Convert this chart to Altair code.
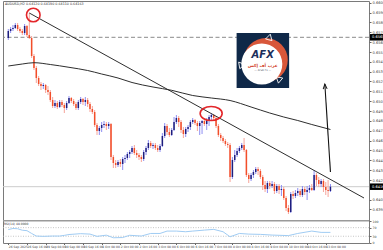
import json
import altair as alt
import pandas as pd

SYMBOL = "AUDUSD,H2"
PIP = 0.0001  # all price arrays below are in 0.0001 units

opens = [6565,6572,6574,6575,6578,6574,6572,6570,6577,6568,
         6565,6547,6535,6525,6519,6517,6518,6513,6511,6503,
         6497,6500,6496,6501,6498,6495,6500,6505,6502,6499,
         6495,6501,6504,6501,6503,6499,6494,6491,6478,6472,
         6475,6478,6479,6477,6479,6446,6440,6438,6441,6439,
         6444,6445,6449,6451,6455,6450,6448,6446,6444,6451,
         6455,6460,6457,6458,6455,6453,6457,6467,6477,6471,
         6468,6473,6481,6485,6481,6473,6469,6474,6476,6481,
         6483,6480,6477,6480,6482,6479,6483,6486,6488,6485,
         6477,6468,6465,6462,6459,6458,6426,6443,6448,6452,
         6455,6458,6453,6428,6424,6428,6431,6434,6432,6426,
         6418,6414,6420,6417,6419,6412,6417,6413,6414,6405,
         6395,6391,6409,6407,6410,6412,6408,6414,6411,6413,
         6415,6413,6428,6423,6419,6422,6416,6413,6412]
highs = [6574,6576,6578,6580,6580,6576,6574,6579,6578,6590,
         6567,6549,6537,6527,6521,6520,6519,6517,6513,6506,
         6503,6502,6503,6503,6500,6502,6507,6506,6504,6501,
         6503,6506,6505,6506,6505,6501,6497,6493,6480,6477,
         6481,6482,6481,6481,6480,6448,6443,6443,6444,6446,
         6448,6451,6453,6457,6458,6453,6450,6448,6453,6457,
         6463,6462,6460,6460,6458,6459,6470,6480,6479,6475,
         6475,6486,6488,6487,6483,6476,6476,6478,6483,6485,
         6484,6482,6482,6483,6484,6485,6488,6490,6489,6487,
         6479,6470,6467,6464,6461,6460,6446,6453,6455,6457,
         6460,6465,6454,6430,6430,6433,6436,6436,6434,6428,
         6422,6422,6422,6422,6421,6419,6419,6418,6416,6407,
         6398,6411,6412,6413,6415,6414,6417,6416,6417,6418,
         6419,6433,6430,6426,6424,6424,6421,6423,6419]
lows = [6563,6570,6572,6574,6572,6570,6568,6568,6566,6564,
        6545,6533,6520,6517,6513,6514,6510,6508,6501,6495,
        6495,6494,6495,6496,6490,6493,6499,6500,6497,6493,
        6493,6499,6498,6497,6496,6491,6489,6476,6468,6468,
        6471,6475,6473,6474,6443,6435,6435,6436,6436,6433,
        6440,6443,6445,6449,6448,6445,6443,6441,6442,6448,
        6453,6455,6454,6453,6451,6451,6456,6465,6468,6466,
        6467,6472,6479,6476,6470,6465,6466,6471,6473,6479,
        6478,6472,6468,6469,6477,6473,6477,6483,6482,6475,
        6466,6462,6460,6457,6455,6421,6424,6441,6446,6450,
        6453,6451,6426,6420,6422,6425,6429,6428,6424,6413,
        6411,6410,6414,6415,6409,6410,6409,6407,6403,6392,
        6389,6390,6404,6405,6407,6406,6406,6408,6403,6410,
        6412,6412,6417,6416,6416,6411,6408,6406,6411]
closes = [6572,6574,6575,6578,6574,6572,6570,6577,6568,6565,
          6547,6535,6525,6519,6517,6518,6513,6511,6503,6497,
          6500,6496,6501,6498,6495,6500,6505,6502,6499,6495,
          6501,6504,6501,6503,6499,6494,6491,6478,6472,6475,
          6478,6479,6477,6479,6446,6440,6438,6441,6439,6444,
          6445,6449,6451,6455,6450,6448,6446,6444,6451,6455,
          6460,6457,6458,6455,6453,6457,6467,6477,6471,6468,
          6473,6481,6485,6481,6473,6469,6474,6476,6481,6483,
          6480,6477,6480,6482,6479,6483,6486,6488,6485,6477,
          6468,6465,6462,6459,6458,6426,6443,6448,6452,6455,
          6458,6453,6428,6424,6428,6431,6434,6432,6426,6418,
          6414,6420,6417,6419,6412,6417,6413,6414,6405,6395,
          6391,6409,6407,6410,6412,6408,6414,6411,6413,6415,
          6413,6428,6423,6419,6422,6416,6413,6412,6416.3]

# long moving average (read at selected bars)
ma_idx = [0, 6, 11, 18, 26, 34, 40, 47, 53, 62, 70, 79, 87, 95, 104, 112, 118, 124, 130, 138]
ma_val = [6537, 6539, 6540.3, 6538.5, 6535.7, 6532.5, 6529, 6525, 6520.5, 6516, 6512.7,
          6507.5, 6505, 6502.5, 6496, 6490, 6486, 6482.5, 6478.5, 6473.5]

# RSI(14)
rsi_idx = [0, 2, 4, 6, 8, 10, 12, 15, 19, 22, 24, 26, 31, 35, 38, 42, 45, 49, 52, 57, 61, 65,
           68, 72, 76, 79, 84, 88, 92, 95, 99, 103, 108, 113, 120, 124, 130, 134, 138]
rsi_val = [61, 66, 65, 58, 56, 43, 31, 29.5, 31, 31, 34, 38, 42, 40, 29.5, 35, 23, 24, 34.5, 31, 43, 43,
           54, 54, 51, 54, 58.5, 62, 51, 27.6, 43, 40, 38.7, 35.5, 33, 43, 54, 48, 48]

# trend line from the spike high to the right edge
trend_idx = [9, 152.375]
trend_val = [6590, 6405]
level_dashed = 6565.7

price_ticks = [6600.3, 6590.4, 6580.6, 6570.7, 6560.9, 6551.0, 6541.2, 6531.3, 6521.5, 6511.6,
               6501.8, 6492.0, 6482.1, 6472.2, 6462.4, 6452.6, 6442.7, 6432.9, 6423.0, 6403.3,
               6393.5]
rsi_ticks = [100, 70, 30, 0]
date_ticks = [0, 8, 16, 24, 32, 40, 48, 56, 64, 72, 80, 88, 96, 104, 112, 120, 128, 136]
date_labels = ["26 Sep 2025", "26 Sep 16:00", "29 Sep 08:00", "30 Sep 00:00", "30 Sep 16:00",
               "1 Oct 08:00", "2 Oct 00:00", "2 Oct 16:00", "3 Oct 08:00", "6 Oct 00:00",
               "6 Oct 16:00", "7 Oct 08:00", "8 Oct 00:00", "8 Oct 16:00", "9 Oct 08:00",
               "10 Oct 00:00", "10 Oct 16:00", "13 Oct 08:00"]

# annotations (in bar-index / pips units)
circle_pts = {"i": [10.7], "p": [6588]}
ellipse_pts = {"i": [86.9], "p": [6489.5]}
arrow_line = {"i": [138.0, 135.6], "p": [6431, 6519]}
arrow_head = {"i": [135.67], "p": [6516.5]}
logo_box = {"x1": [97.8], "x2": [120.3], "y1": [6570], "y2": [6515]}
logo_orange = {"i": [110.3], "p": [6543]}
logo_white = {"i": [108.6], "p": [6539]}
logo_tri = {"i": [111.9, 99.6, 116.4], "p": [6566, 6537, 6524], "a": [15, 200, 70]}
logo_afx = {"i": [109.0], "p": [6548], "t": ["AFX"]}
logo_ar = {"i": [109.0], "p": [6537.5], "t": ["عرب أف إكس"]}
logo_en = {"i": [109.0], "p": [6533], "t": ["— Arab Fx —"]}

n = len(closes)
candles = pd.DataFrame({
    "i": list(range(n)),
    "o": [v * PIP for v in opens],
    "h": [v * PIP for v in highs],
    "l": [v * PIP for v in lows],
    "c": [v * PIP for v in closes],
})

BULL, BEAR = "#1e1e7e", "#f24e2a"
BULL_WICK, BEAR_WICK = "#8e8ef2", "#f6a49a"
FONT = "DejaVu Sans"

X = alt.Scale(domain=[-0.125, 152.375], nice=False, zero=False)
PRICE = alt.Scale(domain=[0.63823, 0.6602], range=[219.7, 0], nice=False, zero=False)
RSI = alt.Scale(domain=[0, 100], range=[241.7, 220.2], nice=False, zero=False)

XAXIS = alt.Axis(values=date_ticks,
                 labelExpr=json.dumps(date_labels) + "[round(datum.value / 8)]",
                 labelAlign="left", labelBaseline="top", labelFontSize=3, labelFont=FONT,
                 labelColor="#444", labelPadding=0.3, tickSize=1.5, tickColor="#666",
                 domain=False, grid=False, title=None, labelFlush=False, labelOverlap=False)
PRICE_AXIS = alt.Axis(orient="right", values=[v * PIP for v in price_ticks], format=".5f",
                      labelFontSize=3.6, labelFont=FONT, labelColor="#444", labelPadding=1,
                      tickSize=2, tickColor="#666", domain=False, grid=False, title=None,
                      labelFlush=False, labelOverlap=False)
RSI_AXIS = alt.Axis(orient="right", values=rsi_ticks, format="d", labelFontSize=3.2, labelFont=FONT,
                    labelColor="#444", labelPadding=1, tickSize=2, tickColor="#666", domain=False,
                    grid=False, title=None, labelFlush=False, labelOverlap=False)


def xq(field="i"):
    return alt.X(f"{field}:Q", scale=X, axis=XAXIS)


def yp(field="p", axis=None):
    return alt.Y(f"{field}:Q", scale=PRICE, axis=axis)


def pdf(d, keys=("p",)):
    out = dict(d)
    for k in keys:
        if k in out:
            out[k] = [v * PIP for v in out[k]]
    return pd.DataFrame(out)


up_cond = "datum.c >= datum.o"

wicks = alt.Chart(candles).mark_rule(strokeWidth=1).encode(
    x=xq(), y=yp("l", PRICE_AXIS), y2="h:Q",
    color=alt.condition(up_cond, alt.value(BULL_WICK), alt.value(BEAR_WICK)))
bodies = alt.Chart(candles).mark_bar(size=1.5).encode(
    x=xq(), y=yp("o"), y2="c:Q",
    color=alt.condition(up_cond, alt.value(BULL), alt.value(BEAR)))

ma = alt.Chart(pdf({"i": ma_idx, "p": ma_val})).mark_line(
    color="#2e2e2e", strokeWidth=1, interpolate="monotone").encode(x=xq(), y=yp())
trend = alt.Chart(pdf({"i": trend_idx, "p": trend_val})).mark_line(
    color="#2e2e2e", strokeWidth=1, clip=True).encode(x=xq(), y=yp())

dashed = alt.Chart(pdf({"p": [level_dashed]})).mark_rule(
    color="#8a8a8a", strokeDash=[4, 2.5], strokeWidth=1).encode(y=yp())
bid = alt.Chart(pdf({"p": [closes[-1]]})).mark_rule(
    color="#cccccc", strokeWidth=1).encode(y=yp())
sep = alt.Chart(pd.DataFrame({"p": [0.63823]})).mark_rule(
    color="#9a9a9a", strokeWidth=1.5).encode(y=yp())

# highlighted price labels on the right scale
hl = pd.DataFrame({"p": [level_dashed * PIP, closes[-1] * PIP],
                   "t": [f"{level_dashed * PIP:.5f}", f"{closes[-1] * PIP:.5f}"]})
hl_box = alt.Chart(hl).mark_tick(orient="horizontal", size=16, thickness=6.5, color="#000",
                                 opacity=1).encode(x=alt.value(375), y=yp())
hl_txt = alt.Chart(hl).mark_text(align="left", baseline="middle", fontSize=3.6, font=FONT,
                                 color="#fff").encode(x=alt.value(369), y=yp(), text="t:N")

# annotations
circ = alt.Chart(pdf(circle_pts)).mark_point(shape="circle", size=185, filled=False,
                                             color="#e3262a", strokeWidth=1.6, opacity=1).encode(x=xq(), y=yp())
ELLIPSE = "M -1 0 A 1 0.64 0 1 0 1 0 A 1 0.64 0 1 0 -1 0 Z"
ell = alt.Chart(pdf(ellipse_pts)).mark_point(shape=ELLIPSE, size=484, filled=False,
                                             color="#e3262a", strokeWidth=1.6, opacity=1).encode(x=xq(), y=yp())
arr = alt.Chart(pdf(arrow_line)).mark_line(color="#111", strokeWidth=1.1).encode(x=xq(), y=yp())
arr_head = alt.Chart(pdf(arrow_head)).mark_point(shape="M -0.8 1 L 0 -1 L 0.8 1", size=25, angle=356,
                                                 filled=False, color="#111", strokeWidth=1,
                                                 opacity=1).encode(x=xq(), y=yp())

box = alt.Chart(pdf(logo_box, ("y1", "y2"))).mark_rect(color="#0f2848").encode(
    x=xq("x1"), x2="x2:Q", y=yp("y1"), y2="y2:Q")
orange = alt.Chart(pdf(logo_orange)).mark_point(shape="circle", size=1936, filled=True,
                                                color="#d8573a", opacity=1).encode(x=xq(), y=yp())
white = alt.Chart(pdf(logo_white)).mark_point(shape="circle", size=1681, filled=True,
                                              color="#ffffff", opacity=1).encode(x=xq(), y=yp())
tri = alt.Chart(pdf(logo_tri)).mark_point(shape="triangle-up", size=45, filled=False, color="#ffffff",
                                          strokeWidth=0.8, opacity=1).encode(
    x=xq(), y=yp(), angle=alt.Angle("a:Q", scale=None))
afx = alt.Chart(pdf(logo_afx)).mark_text(fontSize=10, fontWeight="bold", fontStyle="italic",
                                         font=FONT, color="#1c2f5c").encode(x=xq(), y=yp(), text="t:N")
ar = alt.Chart(pdf(logo_ar)).mark_text(fontSize=4.4, fontWeight="bold", font=FONT,
                                       color="#d2452b").encode(x=xq(), y=yp(), text="t:N")
en = alt.Chart(pdf(logo_en)).mark_text(fontSize=2.6, font=FONT,
                                       color="#556070").encode(x=xq(), y=yp(), text="t:N")

header_txt = (f"{SYMBOL}  {opens[-1] * PIP:.5f} {highs[-1] * PIP:.5f} "
              f"{lows[-1] * PIP:.5f} {closes[-1] * PIP:.5f}")
header = alt.Chart(pd.DataFrame({"t": [header_txt]})).mark_text(
    align="left", baseline="middle", fontSize=3.3, font=FONT, color="#333").encode(
    x=alt.value(2), y=alt.value(3), text="t:N")

# RSI panel
rsi_df = pd.DataFrame({"i": rsi_idx, "v": rsi_val})
rsi_levels = alt.Chart(pd.DataFrame({"v": [70, 30]})).mark_rule(
    color="#b8b8b8", strokeDash=[1, 1.5], strokeWidth=0.8).encode(
    y=alt.Y("v:Q", scale=RSI, axis=None))
rsi_line = alt.Chart(rsi_df).mark_line(color="#a0ccf3", strokeWidth=1).encode(
    x=xq(), y=alt.Y("v:Q", scale=RSI, axis=RSI_AXIS))
rsi_head = alt.Chart(pd.DataFrame({"t": [f"RSI(14) {rsi_val[-1]:.4f}"]})).mark_text(
    align="left", baseline="middle", fontSize=3, font=FONT, color="#333").encode(
    x=alt.value(1), y=alt.value(223), text="t:N")

chart = alt.layer(
    bid, dashed, sep, wicks, bodies, ma, trend,
    box, orange, white, tri, afx, ar, en,
    circ, ell, arr, arr_head,
    hl_box, hl_txt, header,
    rsi_levels, rsi_line, rsi_head,
).resolve_scale(y="independent").properties(
    width=366, height=242,
    autosize=alt.AutoSizeParams(type="none"),
    padding={"left": 3, "top": 1, "right": 14, "bottom": 7},
    background="white",
).configure_view(stroke="#7a7a7a", strokeWidth=1)

chart.save("out.html", embed_options={"renderer": "svg", "actions": False})
